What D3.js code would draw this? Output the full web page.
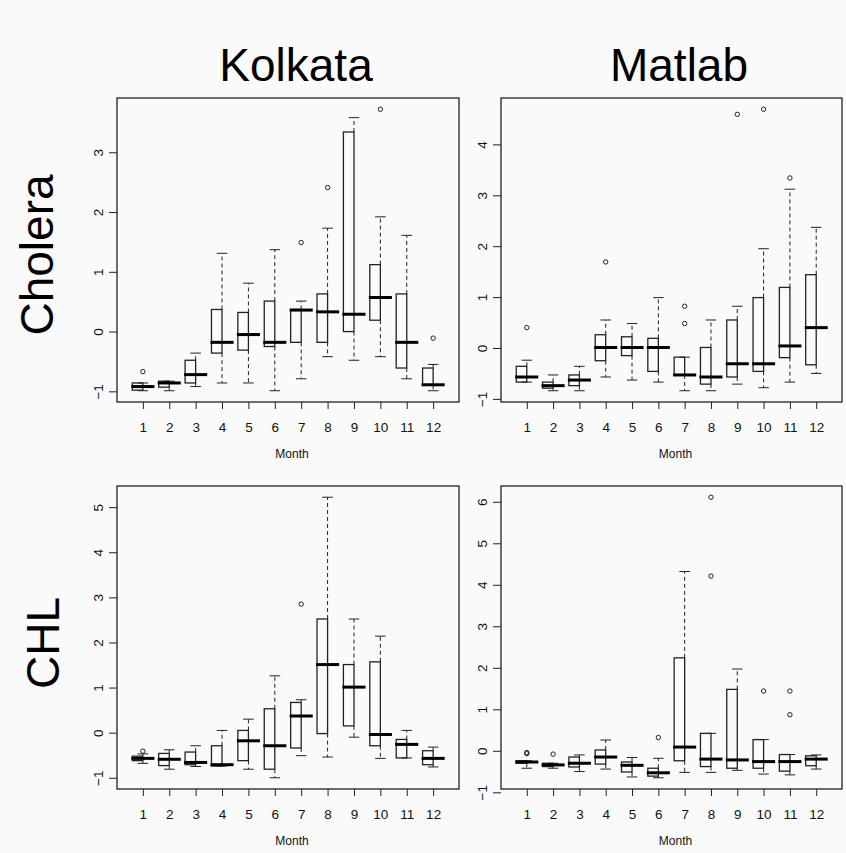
<!DOCTYPE html>
<html>
<head>
<meta charset="utf-8">
<script src="https://cdn.jsdelivr.net/npm/d3@7"></script>
<style>
  body { margin: 0; background: #fafafa; }
  svg { display: block; font-family: "Liberation Sans", Arial, sans-serif; }
</style>
</head>
<body>
<script>
// months on the x axis
const months = [1, 2, 3, 4, 5, 6, 7, 8, 9, 10, 11, 12];

// each row: [lower whisker, Q1, median, Q3, upper whisker]
const kolkataCholera = [
  [-0.99, -0.98, -0.92, -0.86, -0.86],
  [-0.99, -0.93, -0.86, -0.83, -0.83],
  [-0.92, -0.86, -0.72, -0.48, -0.36],
  [-0.86, -0.36, -0.18, 0.37, 1.31],
  [-0.86, -0.31, -0.05, 0.32, 0.81],
  [-0.99, -0.25, -0.18, 0.51, 1.37],
  [-0.79, -0.18, 0.36, 0.37, 0.51],
  [-0.42, -0.18, 0.33, 0.63, 1.73],
  [-0.48, 0.0, 0.29, 3.34, 3.58],
  [-0.42, 0.19, 0.57, 1.12, 1.92],
  [-0.79, -0.61, -0.18, 0.63, 1.61],
  [-0.99, -0.9, -0.89, -0.61, -0.55]
];
const kolkataCholeraOut = [[1, -0.67], [7, 1.49], [8, 2.41], [10, 3.72], [12, -0.11]];

const matlabCholera = [
  [-0.67, -0.67, -0.57, -0.36, -0.24],
  [-0.84, -0.79, -0.74, -0.67, -0.53],
  [-0.84, -0.74, -0.63, -0.53, -0.36],
  [-0.57, -0.25, 0.01, 0.26, 0.55],
  [-0.63, -0.15, 0.01, 0.22, 0.48],
  [-0.67, -0.46, 0.01, 0.19, 0.99],
  [-0.84, -0.53, -0.53, -0.18, -0.18],
  [-0.84, -0.71, -0.57, 0.01, 0.55],
  [-0.71, -0.57, -0.31, 0.55, 0.82],
  [-0.78, -0.46, -0.31, 0.99, 1.95],
  [-0.67, -0.19, 0.04, 1.19, 3.12],
  [-0.5, -0.33, 0.4, 1.44, 2.37]
];
const matlabCholeraOut = [[1, 0.4], [4, 1.69], [7, 0.82], [7, 0.48], [9, 4.59], [10, 4.69], [11, 3.34]];

const kolkataChl = [
  [-0.68, -0.62, -0.57, -0.52, -0.47],
  [-0.81, -0.73, -0.59, -0.46, -0.38],
  [-0.75, -0.71, -0.66, -0.43, -0.29],
  [-0.74, -0.74, -0.71, -0.29, 0.05],
  [-0.81, -0.62, -0.18, 0.05, 0.3],
  [-1.0, -0.81, -0.29, 0.53, 1.26],
  [-0.51, -0.34, 0.37, 0.67, 0.73],
  [-0.54, -0.02, 1.51, 2.52, 5.22],
  [-0.1, 0.15, 1.01, 1.51, 2.52],
  [-0.57, -0.29, -0.04, 1.57, 2.14],
  [-0.56, -0.56, -0.26, -0.15, 0.05],
  [-0.76, -0.71, -0.57, -0.4, -0.32]
];
const kolkataChlOut = [[1, -0.41], [7, 2.85]];

const matlabChl = [
  [-0.42, -0.3, -0.27, -0.24, -0.24],
  [-0.42, -0.38, -0.34, -0.3, -0.3],
  [-0.5, -0.39, -0.3, -0.15, -0.1],
  [-0.44, -0.32, -0.15, 0.02, 0.26],
  [-0.63, -0.51, -0.35, -0.27, -0.16],
  [-0.65, -0.61, -0.53, -0.42, -0.18],
  [-0.52, -0.24, 0.09, 2.24, 4.32],
  [-0.52, -0.38, -0.2, 0.42, 0.42],
  [-0.47, -0.42, -0.22, 1.48, 1.97],
  [-0.56, -0.42, -0.26, 0.27, 0.27],
  [-0.58, -0.49, -0.26, -0.09, -0.09],
  [-0.44, -0.36, -0.2, -0.12, -0.1]
];
const matlabChlOut = [[1, -0.04], [1, -0.07], [2, -0.08], [6, 0.32], [8, 6.11], [8, 4.21], [10, 1.44], [11, 1.44], [11, 0.87]];

// y tick labels per panel
const kolkataCholeraTicks = [-1, 0, 1, 2, 3];
const matlabCholeraTicks = [-1, 0, 1, 2, 3, 4];
const kolkataChlTicks = [-1, 0, 1, 2, 3, 4, 5];
const matlabChlTicks = [-1, 0, 1, 2, 3, 4, 5, 6];

const colTitles = ["Kolkata", "Matlab"];
const rowTitles = ["Cholera", "CHL"];

const W = 846, H = 853;
const svg = d3.select("body").append("svg").attr("width", W).attr("height", H);
svg.append("rect").attr("width", W).attr("height", H).attr("fill", "#fafafa");

const panels = [
  { stats: kolkataCholera, out: kolkataCholeraOut, ticks: kolkataCholeraTicks, x: 117, y: 98, w: 342, h: 304 },
  { stats: matlabCholera, out: matlabCholeraOut, ticks: matlabCholeraTicks, x: 501, y: 98, w: 341, h: 304 },
  { stats: kolkataChl, out: kolkataChlOut, ticks: kolkataChlTicks, x: 117, y: 486, w: 342, h: 303 },
  { stats: matlabChl, out: matlabChlOut, ticks: matlabChlTicks, x: 501, y: 486, w: 341, h: 303 }
];

panels.forEach(function (p) {
  const g = svg.append("g").attr("transform", "translate(" + p.x + "," + p.y + ")");

  // R style limits: 4% padding on the data range
  const all = p.stats.flat().concat(p.out.map(d => d[1]));
  const ext = d3.extent(all);
  const pad = (ext[1] - ext[0]) * 0.04;
  const y = d3.scaleLinear().domain([ext[0] - pad, ext[1] + pad]).range([p.h, 0]);
  const x = d3.scaleLinear().domain([0.5 - 0.48, 12.5 + 0.48]).range([0, p.w]);

  const half = 0.4, staple = 0.2;

  const box = g.selectAll(".box").data(p.stats).enter().append("g").attr("class", "box");

  // whiskers (dashed)
  box.append("line")
    .attr("x1", (d, i) => x(months[i])).attr("x2", (d, i) => x(months[i]))
    .attr("y1", d => y(d[3])).attr("y2", d => y(d[4]))
    .attr("stroke", "#222").attr("stroke-dasharray", "4,3");
  box.append("line")
    .attr("x1", (d, i) => x(months[i])).attr("x2", (d, i) => x(months[i]))
    .attr("y1", d => y(d[1])).attr("y2", d => y(d[0]))
    .attr("stroke", "#222").attr("stroke-dasharray", "4,3");
  // staples
  box.append("line")
    .attr("x1", (d, i) => x(months[i] - staple)).attr("x2", (d, i) => x(months[i] + staple))
    .attr("y1", d => y(d[4])).attr("y2", d => y(d[4]))
    .attr("stroke", "#222");
  box.append("line")
    .attr("x1", (d, i) => x(months[i] - staple)).attr("x2", (d, i) => x(months[i] + staple))
    .attr("y1", d => y(d[0])).attr("y2", d => y(d[0]))
    .attr("stroke", "#222");
  // box
  box.append("rect")
    .attr("x", (d, i) => x(months[i] - half))
    .attr("width", x(half) - x(0))
    .attr("y", d => y(d[3]))
    .attr("height", d => y(d[1]) - y(d[3]))
    .attr("fill", "none").attr("stroke", "#222").attr("stroke-width", 1.3);
  // median
  box.append("line")
    .attr("x1", (d, i) => x(months[i] - half) - 1).attr("x2", (d, i) => x(months[i] + half) + 1)
    .attr("y1", d => y(d[2])).attr("y2", d => y(d[2]))
    .attr("stroke", "#000").attr("stroke-width", 3);

  // outliers
  g.selectAll(".out").data(p.out).enter().append("circle")
    .attr("cx", d => x(d[0])).attr("cy", d => y(d[1])).attr("r", 2.2)
    .attr("fill", "none").attr("stroke", "#222").attr("stroke-width", 1);

  // frame
  g.append("rect").attr("width", p.w).attr("height", p.h)
    .attr("fill", "none").attr("stroke", "#222").attr("stroke-width", 1.3);

  // x axis
  const xa = g.append("g").attr("transform", "translate(0," + p.h + ")")
    .call(d3.axisBottom(x).tickValues(months).tickSize(7).tickPadding(13));
  xa.select(".domain").remove();
  xa.selectAll("line").attr("stroke", "#222");
  xa.selectAll("text").attr("font-size", 13.5).attr("fill", "#111")
    .attr("font-family", "Liberation Sans, Arial, sans-serif");

  // y axis with rotated labels
  const ya = g.append("g").call(d3.axisLeft(y).tickValues(p.ticks).tickSize(8).tickFormat(d3.format("d")));
  ya.select(".domain").remove();
  ya.selectAll("line").attr("stroke", "#222");
  ya.selectAll("text")
    .attr("transform", "rotate(-90)")
    .attr("x", 0).attr("y", -14.5).attr("dy", 0)
    .attr("text-anchor", "middle")
    .attr("font-size", 13.5).attr("fill", "#111")
    .attr("font-family", "Liberation Sans, Arial, sans-serif");

  g.append("text")
    .attr("x", p.w / 2 + 4).attr("y", p.h + 56)
    .attr("text-anchor", "middle").attr("font-size", 12).attr("fill", "#111")
    .text("Month");
});

// column titles
svg.selectAll(".coltitle").data(colTitles).enter().append("text")
  .attr("x", (d, i) => [296, 679][i]).attr("y", 81)
  .attr("text-anchor", "middle").attr("font-size", 46)
  .text(d => d);

// row titles
svg.selectAll(".rowtitle").data(rowTitles).enter().append("text")
  .attr("transform", (d, i) => "translate(" + [53, 59][i] + "," + [255, 643][i] + ") rotate(-90)")
  .attr("text-anchor", "middle").attr("font-size", 46)
  .text(d => d);
</script>
</body>
</html>
